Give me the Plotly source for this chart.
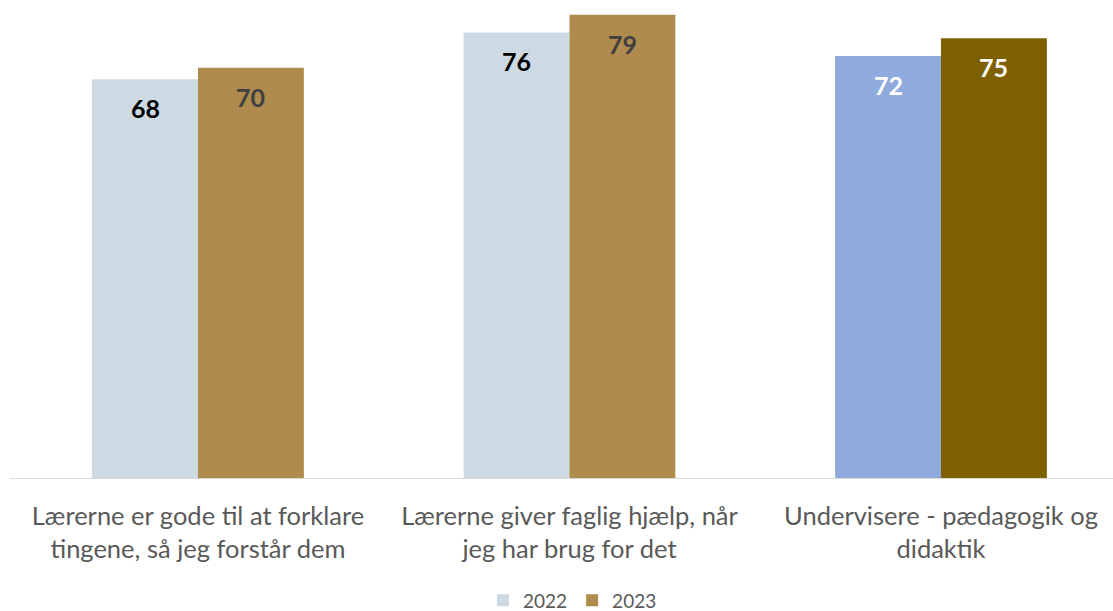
import plotly.graph_objects as go

categories = [
    "Lærerne er gode til at forklare<br>tingene, så jeg forstår dem",
    "Lærerne giver faglig hjælp, når<br>jeg har brug for det",
    "Undervisere - pædagogik og<br>didaktik",
]
years = ["2022", "2023"]
values_2022 = [68, 76, 72]
values_2023 = [70, 79, 75]

colors_2022 = ["#CDDAE4", "#CDDAE4", "#8FAADC"]
colors_2023 = ["#AF8B4E", "#AF8B4E", "#7F6000"]
label_colors_2022 = ["#000000", "#000000", "#FFFFFF"]
label_colors_2023 = ["#404040", "#404040", "#FFFFFF"]

positions = list(range(len(categories)))
bar_w = 0.285

fig = go.Figure()
series = [
    (years[0], values_2022, colors_2022, label_colors_2022, -bar_w),
    (years[1], values_2023, colors_2023, label_colors_2023, 0.0),
]
annotations = []
for name, vals, cols, lcols, off in series:
    fig.add_trace(go.Bar(
        x=positions, y=vals, name=name,
        width=bar_w, offset=off,
        marker=dict(color=cols, line=dict(width=0)),
        hoverinfo="skip",
    ))
    for p, v, lc in zip(positions, vals, lcols):
        annotations.append(dict(
            x=p + off + bar_w / 2, y=v, xref="x", yref="y",
            text=f"<b>{v}</b>", showarrow=False,
            yanchor="middle", yshift=-29,
            font=dict(family="Lato, Noto Sans, sans-serif", size=25, color=lc),
        ))

fig.update_layout(
    width=1113, height=611,
    margin=dict(l=10, r=0, t=9, b=133, autoexpand=False),
    paper_bgcolor="white", plot_bgcolor="white",
    showlegend=True,
    legend=dict(
        orientation="h", x=0.51, xanchor="center",
        y=-0.261, yanchor="middle",
        font=dict(family="Lato, Noto Sans, sans-serif", size=19, color="#595959"),
        itemwidth=30, traceorder="normal",
    ),
    annotations=annotations,
    font=dict(family="Lato, Noto Sans, sans-serif", color="#595959"),
)
fig.update_xaxes(
    range=[-0.506, 2.463], automargin=False,
    tickmode="array", tickvals=positions, ticktext=categories,
    showline=True, linecolor="#D9D9D9", linewidth=1,
    showgrid=False, zeroline=False, ticks="",
    tickfont=dict(family="Lato, Noto Sans, sans-serif", size=25.5, color="#595959"),
    ticklabelstandoff=15,
)
fig.update_yaxes(
    range=[0, 80], visible=False, showgrid=False, zeroline=False, automargin=False,
)

fig.write_html(
    "out.html",
    config={"displayModeBar": False},
    post_script="document.body.style.margin='0';document.body.style.overflow='hidden';",
)
